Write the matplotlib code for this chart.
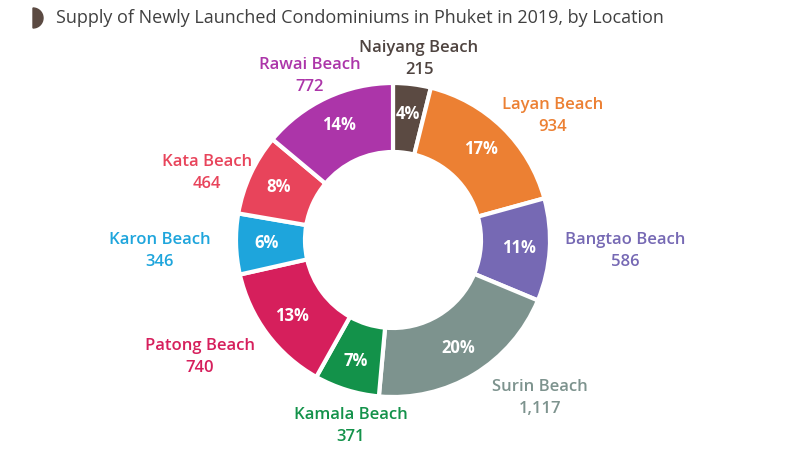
import matplotlib
matplotlib.use("Agg")
import matplotlib.pyplot as plt
from matplotlib.patches import Wedge
import numpy as np

# data
locations = ["Naiyang Beach", "Layan Beach", "Bangtao Beach", "Surin Beach", "Kamala Beach",
             "Patong Beach", "Karon Beach", "Kata Beach", "Rawai Beach"]
units = [215, 934, 586, 1117, 371, 740, 346, 464, 772]
colors = ["#5b4a42", "#ec8033", "#7669b4", "#7d938e", "#13924a",
          "#d61f5c", "#1ea5dc", "#e8445b", "#ac35a9"]
label_colors = ["#4f4440", "#ec8033", "#7669b4", "#7d938e", "#13924a",
                "#d61f5c", "#1ea5dc", "#e8445b", "#ac35a9"]
# label centres (pixels from left / top)
label_pos = [(419, 59), (553, 116), (625, 251), (540, 398), (351, 426),
             (200, 357), (160, 251), (207, 173), (310, 76)]

W, H = 800, 451
plt.rcParams['font.family'] = ['Open Sans', 'DejaVu Sans']

fig = plt.figure(figsize=(W / 100, H / 100), dpi=100)
ax = fig.add_axes([0, 0, 1, 1])

cx, cy = 393, H - 240
r_out, r_in = 157, 88
wedges, _ = ax.pie(units, colors=colors, startangle=90, counterclock=False,
                   center=(cx, cy), radius=r_out, frame=True,
                   wedgeprops=dict(width=r_out - r_in, edgecolor="white", linewidth=3))
ax.set_xlim(0, W)
ax.set_ylim(0, H)
ax.axis("off")

total = sum(units)
r_mid = (r_out + r_in) / 2 + 4
for w, v, name, lc, (lx, ly) in zip(wedges, units, locations, label_colors, label_pos):
    ang = np.deg2rad((w.theta1 + w.theta2) / 2)
    ax.text(cx + r_mid * np.cos(ang), cy + r_mid * np.sin(ang), f"{v / total * 100:.0f}%",
            ha="center", va="center", color="white", fontsize=12, fontweight="bold")
    ax.text(lx, H - ly, f"{name}\n{v:,}", ha="center", va="center", color=lc,
            fontsize=12, fontweight="semibold", linespacing=1.55)

# title + icon
ax.add_patch(Wedge((33, H - 18), 10, -90, 90, color="#5b4a42"))
fig.text(56 / W, 1 - 18 / H, "Supply of Newly Launched Condominiums in Phuket in 2019, by Location",
         ha="left", va="center", fontsize=13, color="#404040")

fig.savefig("out.png", dpi=100, facecolor="white")
